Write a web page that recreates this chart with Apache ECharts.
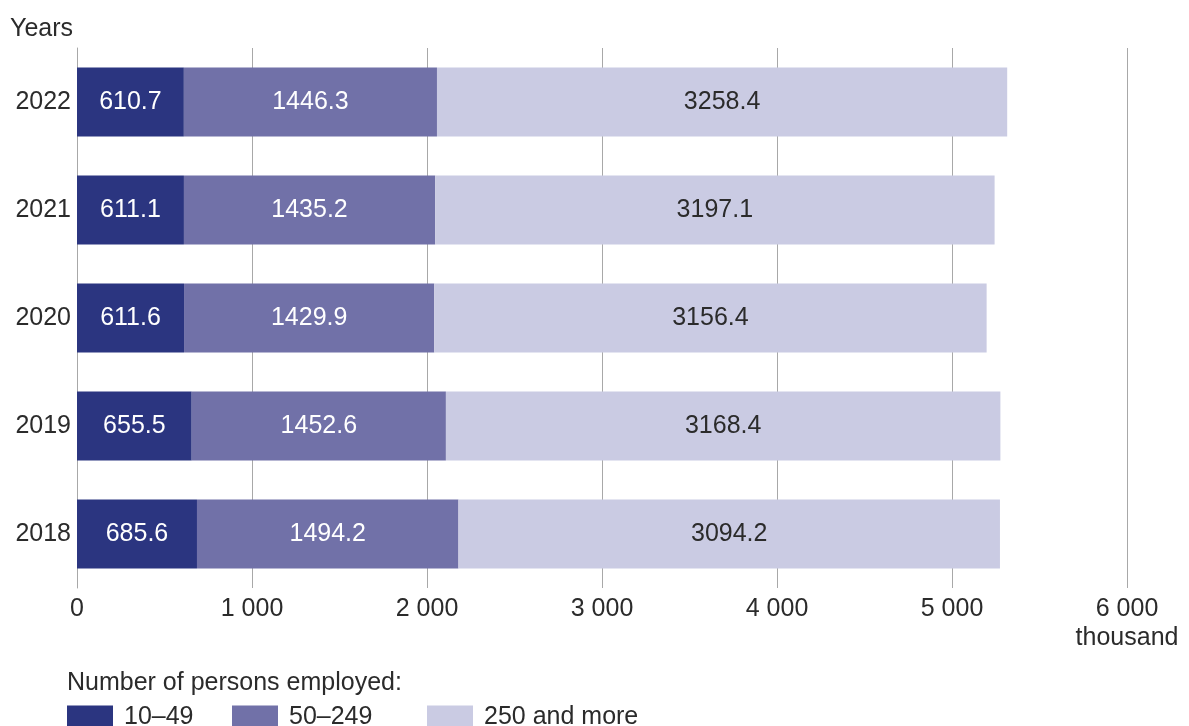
<!DOCTYPE html>
<html>
<head>
<meta charset="utf-8">
<script src="https://cdn.jsdelivr.net/npm/echarts@6/dist/echarts.min.js"></script>
<style>
  html, body { margin: 0; padding: 0; background: #fff; }
  #chart { width: 1189px; height: 726px; }
</style>
</head>
<body>
<div id="chart"></div>
<script>
// Persons employed by enterprise size class, thousand
const years = ['2018', '2019', '2020', '2021', '2022'];
const small = [685.6, 655.5, 611.6, 611.1, 610.7];      // 10–49
const medium = [1494.2, 1452.6, 1429.9, 1435.2, 1446.3]; // 50–249
const large = [3094.2, 3168.4, 3156.4, 3197.1, 3258.4];  // 250 and more
const seriesNames = ['10–49', '50–249', '250 and more'];
const xTicks = [0, 1000, 2000, 3000, 4000, 5000, 6000];

const FONT = 'Arial, Liberation Sans, sans-serif';
const FS = 25;
const TEXT = '#2b2b2b';
const colors = ['#2b3580', '#7171a8', '#cacbe3'];
const labelColors = ['#ffffff', '#ffffff', '#2b2b2b'];

function fmt(v) {
  return String(v).replace(/\B(?=(\d{3})+(?!\d))/g, ' ');
}

const chart = echarts.init(document.getElementById('chart'), null, { renderer: 'canvas' });

const seriesData = [small, medium, large];
const series = seriesData.map((d, i) => ({
  name: seriesNames[i],
  type: 'bar',
  stack: 'total',
  barCategoryGap: '36%',
  data: d,
  itemStyle: { color: colors[i] },
  label: {
    show: true,
    position: 'inside',
    color: labelColors[i],
    fontFamily: FONT,
    fontSize: FS,
    formatter: p => p.value.toFixed(1)
  },
  emphasis: { disabled: true }
}));

const legendLefts = [67, 232, 427];

chart.setOption({
  animation: false,
  textStyle: { fontFamily: FONT, color: TEXT },
  grid: { left: 77, right: 62, top: 48, bottom: 138, containLabel: false },
  xAxis: {
    type: 'value',
    min: xTicks[0],
    max: xTicks[xTicks.length - 1],
    interval: 1000,
    axisLine: { show: false },
    axisTick: { show: false },
    splitLine: { show: true, lineStyle: { color: '#a8a8a8', width: 1 } },
    axisLabel: {
      margin: 7,
      fontSize: FS,
      fontFamily: FONT,
      color: TEXT,
      lineHeight: 29,
      formatter: v => v === 6000 ? fmt(v) + '\nthousand' : fmt(v)
    }
  },
  yAxis: {
    type: 'category',
    data: years,
    axisLine: { show: true, lineStyle: { color: '#a8a8a8', width: 1 } },
    axisTick: { show: false },
    axisLabel: { margin: 6, fontSize: FS, fontFamily: FONT, color: TEXT }
  },
  legend: seriesNames.map((n, i) => ({
    data: [n],
    left: legendLefts[i],
    top: 705,
    padding: 0,
    itemWidth: 46,
    itemHeight: 24,
    itemGap: 0,
    selectedMode: false,
    textStyle: { fontSize: FS, color: TEXT, fontFamily: FONT, padding: [0, 0, 0, 6] },
    icon: 'rect'
  })),
  graphic: [
    {
      type: 'text', left: 10, top: 17,
      style: { text: 'Years', font: FS + 'px Arial, Liberation Sans, sans-serif', fill: TEXT }
    },
    {
      type: 'text', left: 67, top: 671,
      style: { text: 'Number of persons employed:', font: FS + 'px Arial, Liberation Sans, sans-serif', fill: TEXT }
    }
  ],
  series: series
});
</script>
</body>
</html>
